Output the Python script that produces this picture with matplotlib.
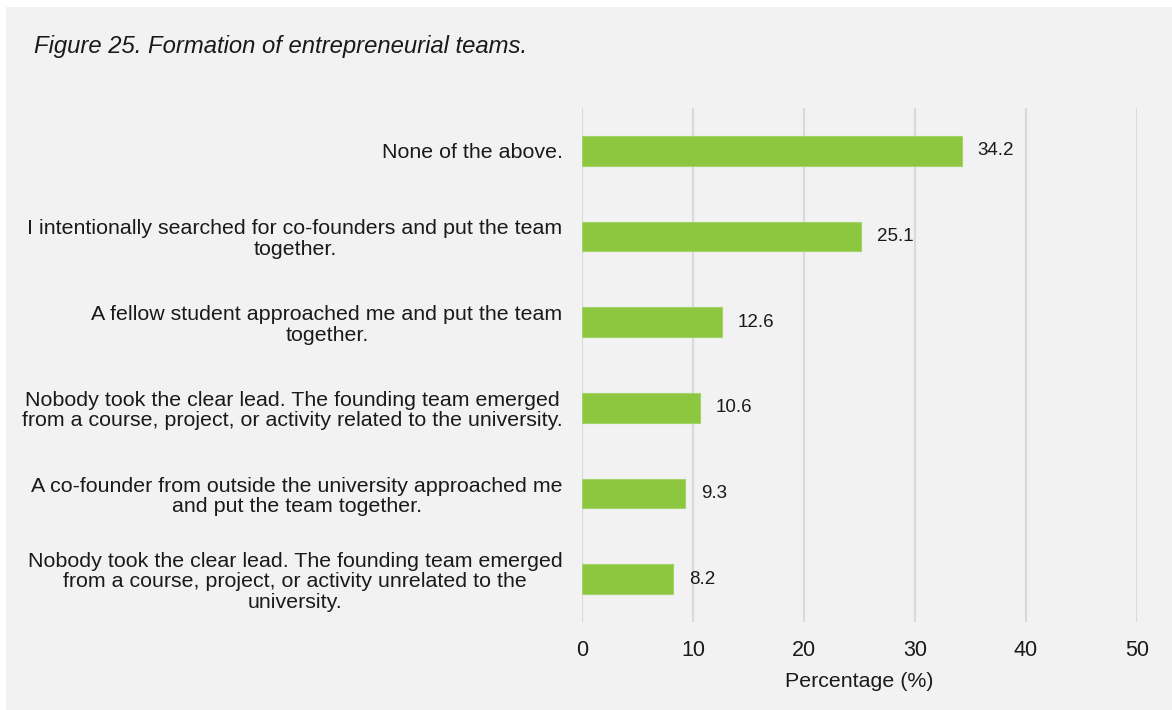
import matplotlib.pyplot as plt
from matplotlib.patches import Rectangle

plt.rcParams['font.family'] = ['Liberation Sans', 'DejaVu Sans']

categories = [
    "None of the above.",
    "I intentionally searched for co-founders and put the team\ntogether.",
    "A fellow student approached me and put the team\ntogether.",
    "Nobody took the clear lead. The founding team emerged\nfrom a course, project, or activity related to the university.",
    "A co-founder from outside the university approached me\nand put the team together.",
    "Nobody took the clear lead. The founding team emerged\nfrom a course, project, or activity unrelated to the\nuniversity.",
]
values = [34.2, 25.1, 12.6, 10.6, 9.3, 8.2]
x_ticks = [0, 10, 20, 30, 40, 50]

title = "Figure 25. Formation of entrepreneurial teams."
x_label = "Percentage (%)"

bar_color = "#8dc63f"
panel_color = "#f2f2f2"
grid_color = "#d9d9d9"
text_color = "#1a1a1a"

fig = plt.figure(figsize=(11.72, 7.10), dpi=100, facecolor="white")
fig.patches.append(Rectangle((6 / 1172, 0), 1 - 6 / 1172, 1 - 7 / 710,
                             transform=fig.transFigure, facecolor=panel_color,
                             edgecolor="none", zorder=-10))

ax = fig.add_axes([582 / 1172, 1 - 622 / 710, (1137 - 582) / 1172, (622 - 108) / 710])
ax.set_facecolor("none")
ax.set_zorder(5)

positions = list(range(len(categories)))
bars = ax.barh(positions, values, height=0.35, color=bar_color,
               edgecolor="#a4d36a", linewidth=0.8, zorder=3)
ax.set_ylim(len(categories) - 0.5, -0.5)
ax.set_xlim(0, 50)
ax.set_xticks(x_ticks)
ax.set_yticks(positions)
ax.set_yticklabels(categories, fontsize=15.4, ha="right", multialignment="center",
                   color=text_color, linespacing=1.1)
ax.tick_params(axis="y", length=0, pad=14)
ax.tick_params(axis="x", length=0, pad=13, labelsize=15.5, labelcolor=text_color)

ax.grid(axis="x", color=grid_color, linewidth=1.5, zorder=0)
for spine in ax.spines.values():
    spine.set_visible(False)

for rect, v in zip(bars, values):
    ax.annotate(f"{v:.1f}", xy=(v, rect.get_y() + rect.get_height() / 2),
                xytext=(11.5, 0), textcoords="offset points",
                va="center", ha="left", fontsize=13.5, color=text_color)

ax.set_xlabel(x_label, fontsize=15.4, color=text_color, labelpad=8)

fig.text(34 / 1172, 1 - 46 / 710, title, fontsize=17.2, style="italic",
         va="center", ha="left", color=text_color)

fig.savefig("out.png", dpi=100, facecolor=fig.get_facecolor())
